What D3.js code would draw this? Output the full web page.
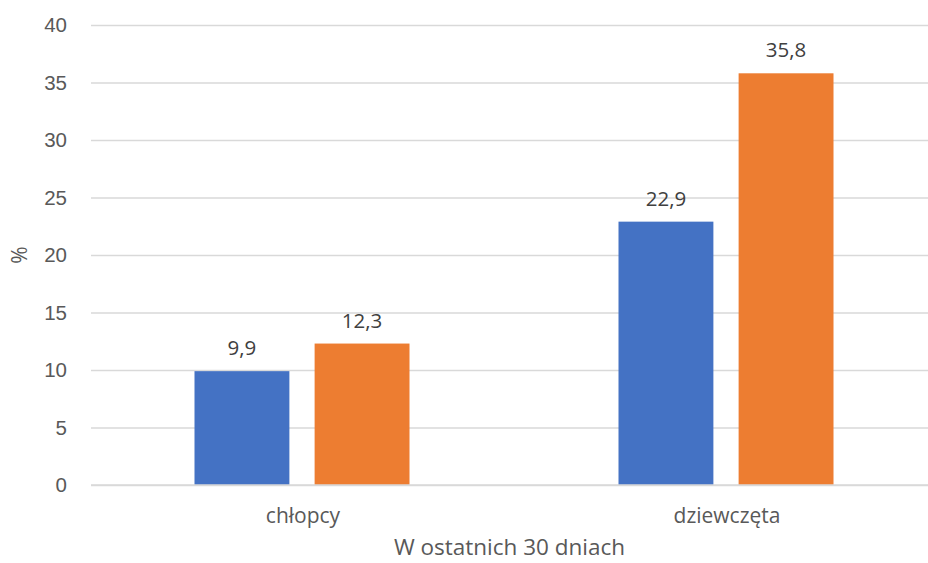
<!DOCTYPE html>
<html>
<head>
<meta charset="utf-8">
<script src="https://cdn.jsdelivr.net/npm/d3@7"></script>
<style>
  body { margin: 0; background: #fff; }
  svg { display: block; }
</style>
</head>
<body>
<div id="canvas"></div>
<script>
// chart size and plot edges
const width = 928, height = 563;
const margin = { left: 91, right: -11, top: 25, bottom: 78 };

// data
const categories = ["chłopcy", "dziewczęta"];
const seriesNames = ["s1", "s2"];
const seriesColors = ["#4472C4", "#ED7D31"];
const values1 = [9.9, 22.9];
const values2 = [12.3, 35.8];
const yTicks = [0, 5, 10, 15, 20, 25, 30, 35, 40];
const yTitle = "%";
const xTitle = "W ostatnich 30 dniach";

const rows = categories.map((c, i) => ({ cat: c, vals: [values1[i], values2[i]] }));

const svg = d3.select("#canvas")
  .append("svg")
  .attr("width", width)
  .attr("height", height)
  .style("font-family", "'Open Sans', 'Segoe UI', sans-serif");

const x0 = d3.scaleBand()
  .domain(categories)
  .range([margin.left, width - margin.right])
  .padding(0);

const groupWidth = 215;
const x1 = d3.scaleBand()
  .domain(seriesNames)
  .range([(x0.bandwidth() - groupWidth) / 2 - 1, (x0.bandwidth() + groupWidth) / 2 - 1])
  .paddingInner(0.21);

const y = d3.scaleLinear()
  .domain([0, 40])
  .range([height - margin.bottom, margin.top]);

// gridlines + y labels
const yAxis = svg.append("g")
  .attr("transform", `translate(${margin.left},0)`)
  .call(d3.axisLeft(y).tickValues(yTicks).tickSize(-(width - margin.left)).tickPadding(24));
yAxis.select(".domain").remove();
yAxis.selectAll(".tick line").attr("stroke", "#D9D9D9").attr("stroke-width", 1.3);
yAxis.selectAll(".tick text")
  .attr("fill", "#595959")
  .style("font-size", "20.5px");

// bars
const groups = svg.append("g")
  .selectAll("g")
  .data(rows)
  .join("g")
  .attr("transform", d => `translate(${x0(d.cat)},0)`);

groups.selectAll("rect")
  .data(d => d.vals.map((v, i) => ({ key: seriesNames[i], v: v, i: i })))
  .join("rect")
  .attr("x", d => x1(d.key))
  .attr("y", d => y(d.v))
  .attr("width", x1.bandwidth())
  .attr("height", d => y(0) - y(d.v))
  .attr("fill", d => seriesColors[d.i]);

// value labels
groups.selectAll("text")
  .data(d => d.vals.map((v, i) => ({ key: seriesNames[i], v: v })))
  .join("text")
  .attr("x", d => x1(d.key) + x1.bandwidth() / 2)
  .attr("y", d => y(d.v) - 16)
  .attr("text-anchor", "middle")
  .attr("fill", "#404040")
  .style("font-size", "20.5px")
  .text(d => d3.format(".1f")(d.v).replace(".", ","));

// baseline
svg.append("line")
  .attr("x1", margin.left).attr("x2", width)
  .attr("y1", y(0)).attr("y2", y(0))
  .attr("stroke", "#D9D9D9").attr("stroke-width", 1.3);

// category labels
svg.append("g")
  .selectAll("text")
  .data(categories)
  .join("text")
  .attr("x", d => x0(d) + x0.bandwidth() / 2)
  .attr("y", 523)
  .attr("text-anchor", "middle")
  .attr("fill", "#595959")
  .style("font-size", "21px")
  .text(d => d);

// axis titles
svg.append("text")
  .attr("x", (margin.left + width) / 2)
  .attr("y", 555)
  .attr("text-anchor", "middle")
  .attr("fill", "#595959")
  .style("font-size", "22.5px")
  .text(xTitle);

svg.append("text")
  .attr("transform", `translate(27,${(y(0) + y(40)) / 2}) rotate(-90)`)
  .attr("text-anchor", "middle")
  .attr("fill", "#595959")
  .style("font-size", "21px")
  .text(yTitle);
</script>
</body>
</html>
